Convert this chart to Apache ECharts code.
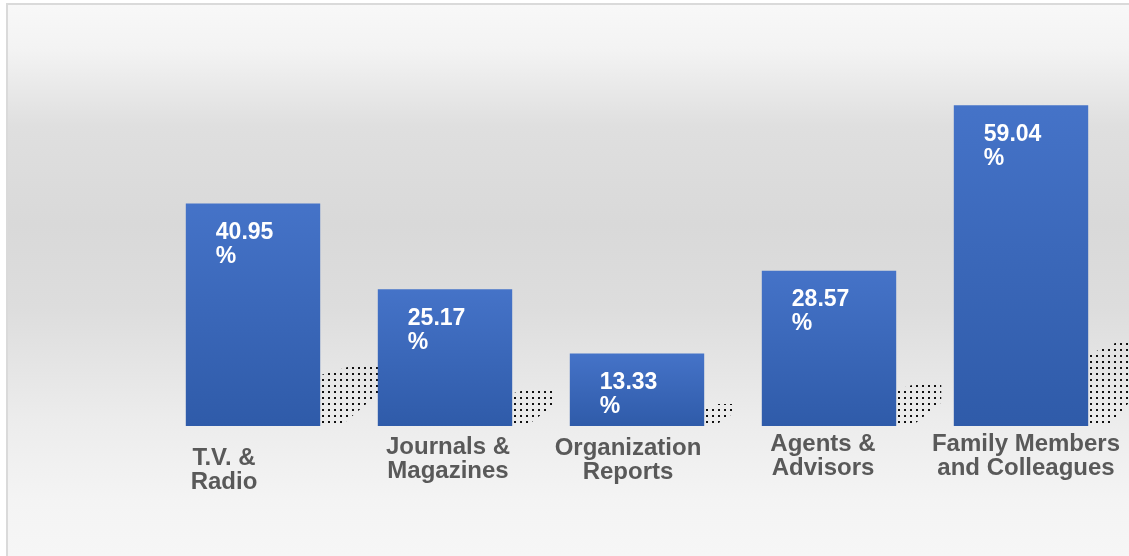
<!DOCTYPE html>
<html>
<head>
<meta charset="utf-8">
<title>Information sources</title>
<script src="https://cdn.jsdelivr.net/npm/echarts@6/dist/echarts.min.js"></script>
<style>
  html, body { margin: 0; padding: 0; background: #ffffff; width: 1129px; height: 556px; overflow: hidden; }
  #frame { position: absolute; left: 6px; top: 3px; right: 0; bottom: 0; border-top: 2px solid #dadada; border-left: 2px solid #dadada; }
  #chart { position: absolute; left: 8px; top: 5px; width: 1121px; height: 551px; }
</style>
</head>
<body>
<div id="frame"></div>
<div id="chart"></div>
<script>
// Share of respondents using each information source (%)
const categories = [
  'T.V. &\nRadio',
  'Journals &\nMagazines',
  'Organization\nReports',
  'Agents &\nAdvisors',
  'Family Members\nand Colleagues'
];
const values = [40.95, 25.17, 13.33, 28.57, 59.04];

// Per-label nudges for the category captions
const labelPadding = [
  [14, 58, 0, 0],
  [3, 0, 0, 6],
  [4, 18, 0, 0],
  [0, 12, 0, 0],
  [0, 0, 0, 10]
];

// Small dot texture used for the dotted shadows beside the bars
function dotPattern() {
  const c = document.createElement('canvas');
  c.width = 6; c.height = 6;
  const ctx = c.getContext('2d');
  ctx.fillStyle = '#111111';
  ctx.fillRect(2, 2, 2, 2);
  return c;
}
const dots = dotPattern();

const chart = echarts.init(document.getElementById('chart'), null, { renderer: 'canvas' });

const option = {
  animation: false,
  backgroundColor: {
    type: 'linear', x: 0, y: 0, x2: 0, y2: 1,
    colorStops: [
      { offset: 0, color: '#f8f8f8' },
      { offset: 0.08, color: '#f3f3f3' },
      { offset: 0.22, color: '#dfdfdf' },
      { offset: 0.4, color: '#d9d9d9' },
      { offset: 0.55, color: '#dddddd' },
      { offset: 0.75, color: '#ececec' },
      { offset: 0.9, color: '#f4f4f4' },
      { offset: 1, color: '#f6f6f6' }
    ]
  },
  grid: { left: 149, right: 12, top: 95, bottom: 130 },
  xAxis: {
    type: 'category',
    data: categories.map((c, i) => ({ value: c, textStyle: { padding: labelPadding[i] } })),
    axisLine: { show: false },
    axisTick: { show: false },
    axisLabel: {
      interval: 0,
      margin: 6,
      color: '#595959',
      fontFamily: '"Liberation Sans", Arial, sans-serif',
      fontWeight: 'bold',
      fontSize: 24,
      lineHeight: 24,
      align: 'center',
      verticalAlign: 'top'
    }
  },
  yAxis: {
    type: 'value',
    min: 0,
    max: 60,
    show: false,
    splitLine: { show: false }
  },
  series: [
    {
      // dotted shadow to the right of each bar, sized from the bar's value
      type: 'custom',
      z: 1,
      silent: true,
      data: values.map((v, i) => [i, v]),
      renderItem: function (params, api) {
        const i = api.value(0);
        const top = api.coord([i, api.value(1)]);
        const base = api.coord([i, 0]);
        const band = api.size([1, 0])[0];
        const barW = band * 0.7;
        const r = base[0] + barW / 2;
        const barH = base[1] - top[1];
        const h = barH * 0.25 + 4;
        const w = Math.min(60, 14 + barH * 0.2);
        const by = base[1];
        return {
          type: 'polygon',
          shape: {
            points: [
              [r, by],
              [r, by - h * 0.85],
              [r + w * 0.5, by - h],
              [r + w, by - h],
              [r + w, by - h * 0.55],
              [r + w * 0.35, by]
            ]
          },
          style: { fill: { image: dots, repeat: 'repeat' } }
        };
      }
    },
    {
      type: 'bar',
      z: 2,
      barWidth: '70%',
      data: values,
      itemStyle: {
        color: {
          type: 'linear', x: 0, y: 0, x2: 0, y2: 1,
          colorStops: [
            { offset: 0, color: '#4573c8' },
            { offset: 1, color: '#2f5ba9' }
          ]
        }
      },
      label: {
        show: true,
        position: [30, 17],
        align: 'left',
        verticalAlign: 'top',
        color: '#ffffff',
        fontFamily: '"Liberation Sans", Arial, sans-serif',
        fontWeight: 'bold',
        fontSize: 23,
        lineHeight: 24,
        formatter: p => p.value.toFixed(2) + '\n%'
      }
    }
  ]
};

chart.setOption(option);
</script>
</body>
</html>
